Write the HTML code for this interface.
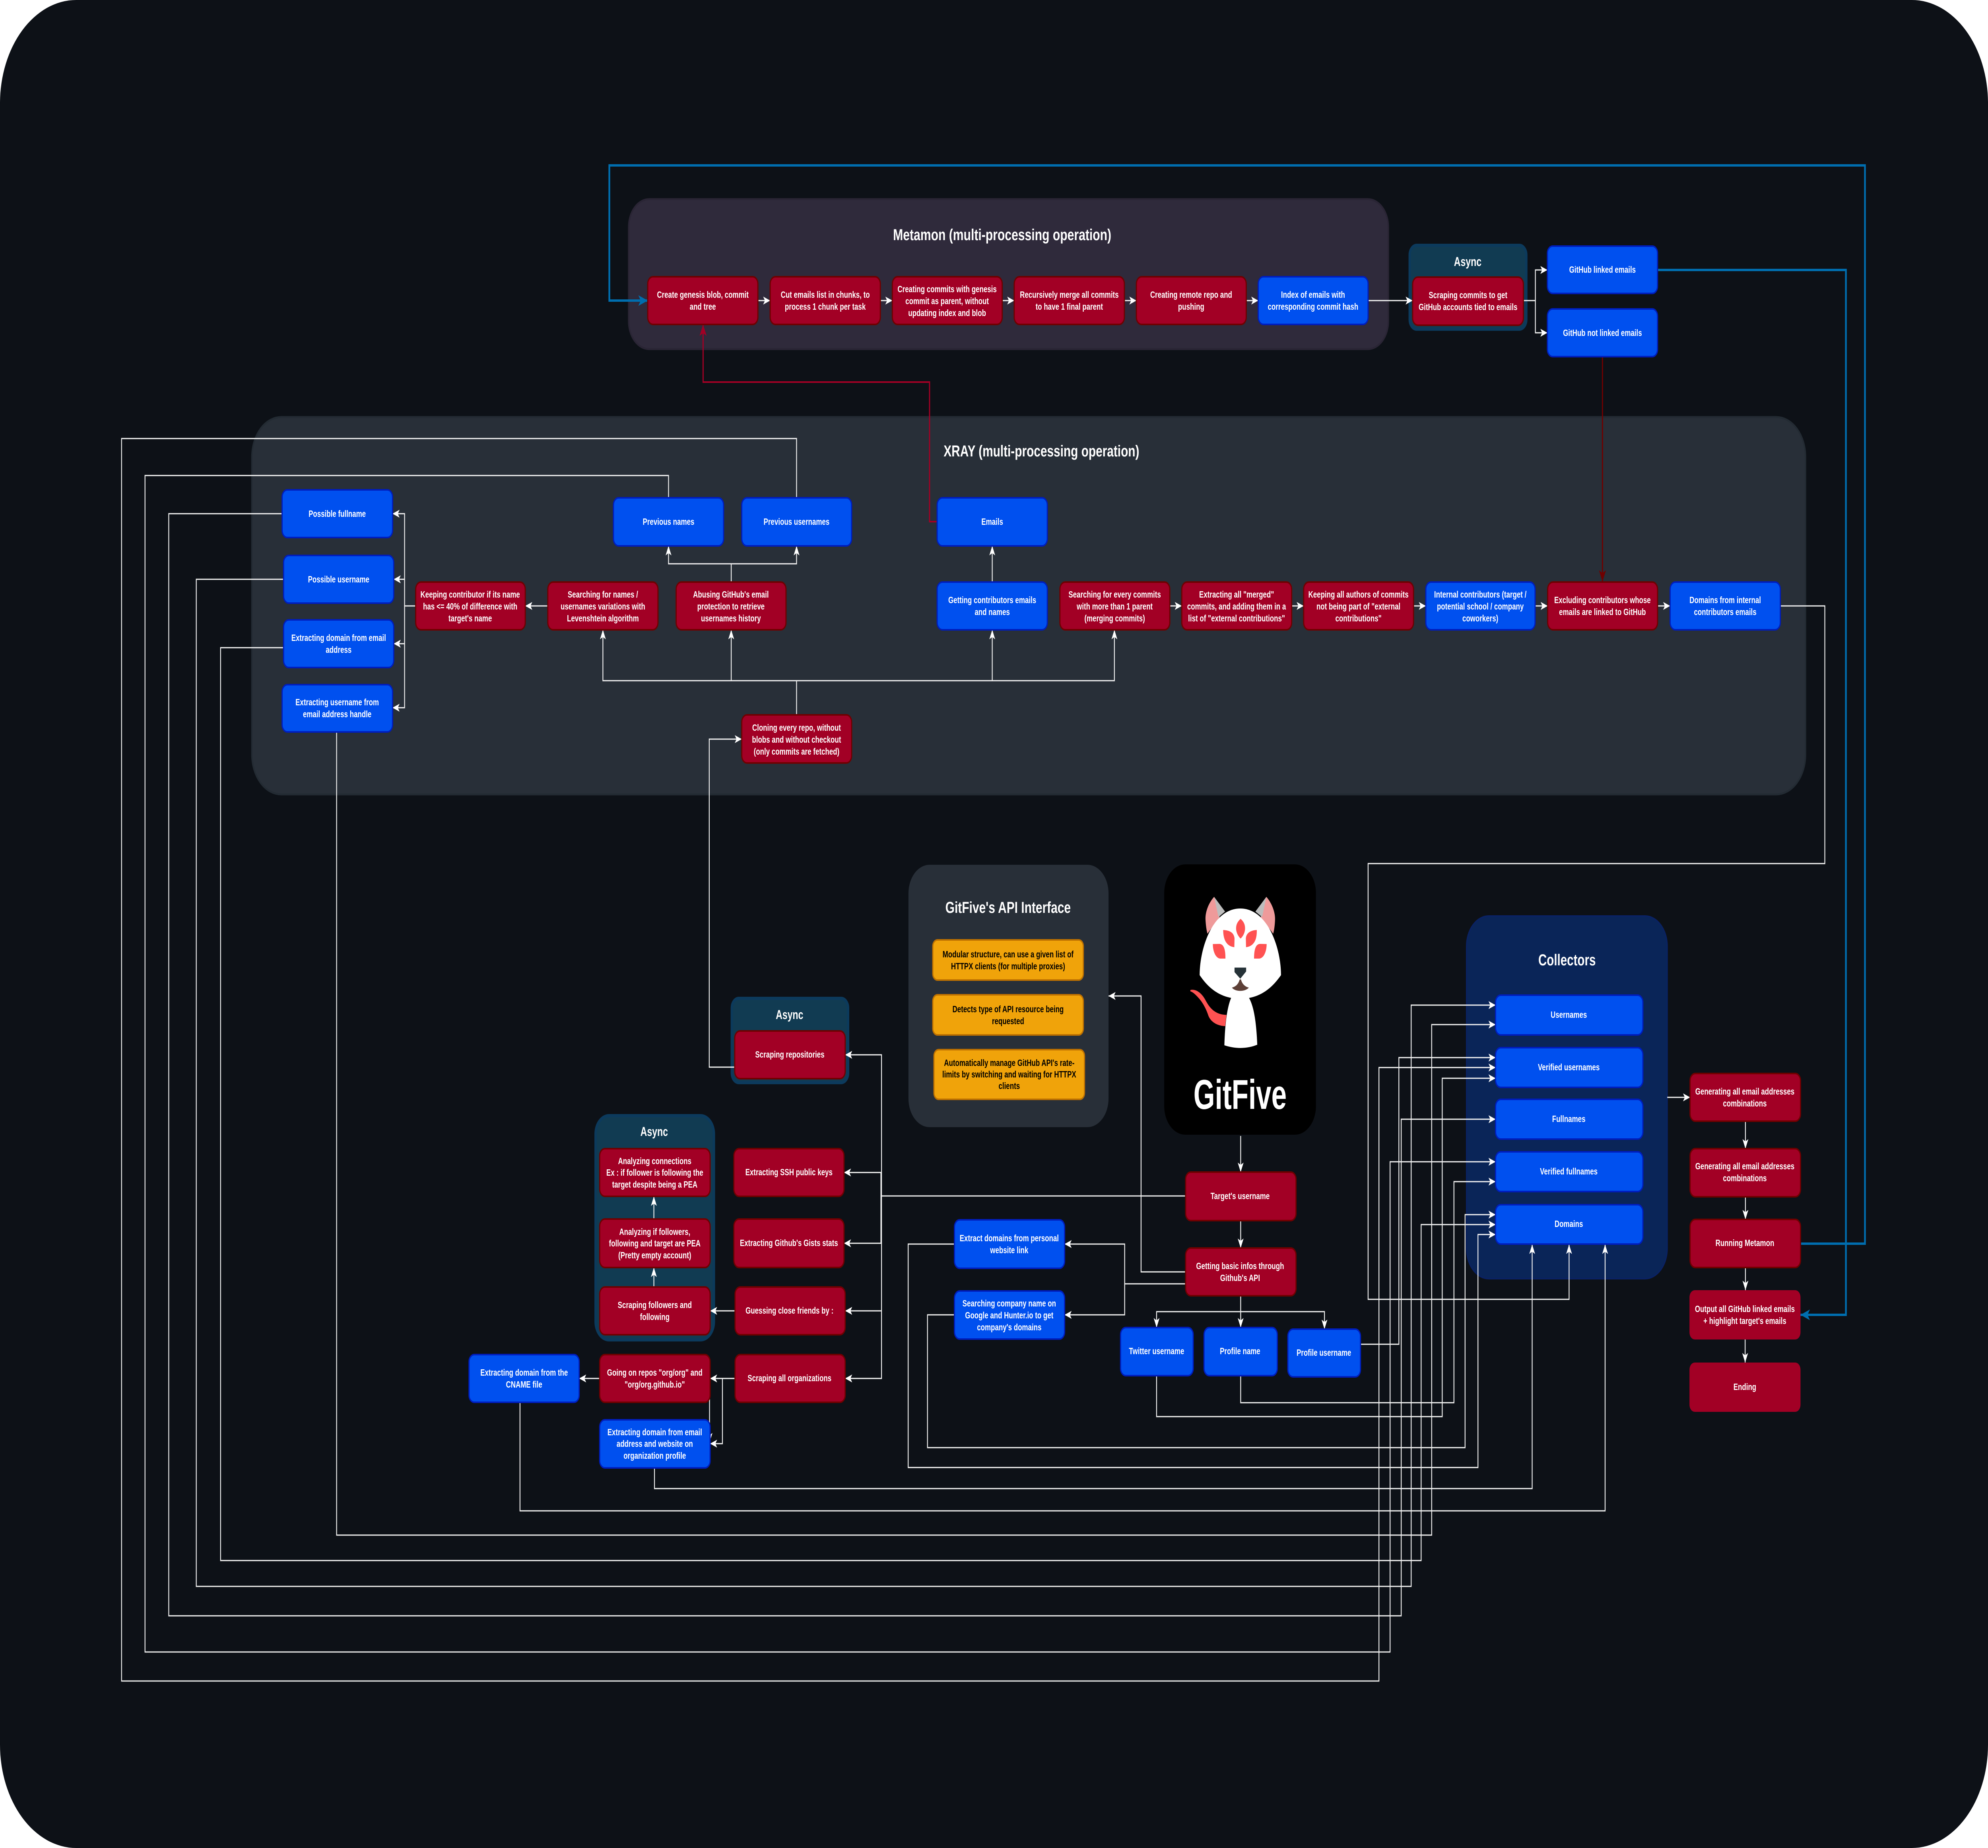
<!DOCTYPE html>
<html><head><meta charset="utf-8"><title>GitFive diagram</title>
<style>
html,body{margin:0;padding:0;background:#fff;width:100%;overflow:hidden}
svg{display:block;width:100%;height:4648px}
text{font-family:"Liberation Sans",sans-serif;font-weight:bold;font-size:23px;fill:#fff;text-anchor:middle}
.h{font-size:40px}
.y{fill:#000}
.r{fill:#a20025;stroke:#6f0000;stroke-width:4}
.b{fill:#0050ef;stroke:#001dbc;stroke-width:4}
.o{fill:#f0a30a;stroke:#bd7000;stroke-width:4}
.a{fill:#113b52;stroke:#0c3a5c;stroke-width:8}
path.l{fill:none;stroke:#f2f2f2;stroke-width:3}
path.u{fill:none;stroke:#006eaf;stroke-width:6}
path.c{fill:none;stroke:#a20025;stroke-width:4}
path.d{fill:none;stroke:#6f0000;stroke-width:4}
</style></head><body>
<svg xmlns="http://www.w3.org/2000/svg" viewBox="0 0 6786 4648" preserveAspectRatio="none">
<defs>
<marker id="w" viewBox="0 0 24 20" refX="24" refY="10" markerWidth="24" markerHeight="20" orient="auto" markerUnits="userSpaceOnUse"><path d="M0 0L24 10L0 20L6 10Z" fill="#fff"/></marker>
<marker id="bl" viewBox="0 0 24 20" refX="24" refY="10" markerWidth="32" markerHeight="28" orient="auto" markerUnits="userSpaceOnUse"><path d="M0 0L24 10L0 20L6 10Z" fill="#006eaf"/></marker>
<marker id="dr" viewBox="0 0 24 20" refX="24" refY="10" markerWidth="30" markerHeight="24" orient="auto" markerUnits="userSpaceOnUse"><path d="M0 0L24 10L0 20L6 10Z" fill="#6f0000"/></marker>
<marker id="cr" viewBox="0 0 24 20" refX="24" refY="10" markerWidth="30" markerHeight="24" orient="auto" markerUnits="userSpaceOnUse"><path d="M0 0L24 10L0 20L6 10Z" fill="#a20025"/></marker>
</defs>
<rect width="6786" height="4648" fill="#fff"/>
<rect width="6786" height="4648" rx="260" ry="260" fill="#0d1117"/>

<!-- containers -->
<rect x="2146" y="501" width="2593" height="377" rx="70" fill="#2f2a3b" stroke="#2a2535" stroke-width="5"/>
<rect x="860" y="1049" width="5303" height="949" rx="100" fill="#282f38" stroke="#232b33" stroke-width="5"/>
<rect class="a" x="4812" y="617" width="398" height="211" rx="24"/>
<rect class="a" x="2498" y="2511" width="397" height="212" rx="24"/>
<rect class="a" x="2033" y="2806" width="404" height="564" rx="46"/>
<rect x="3101" y="2175" width="683" height="660" rx="72" fill="#282f38"/>
<rect x="3974" y="2174" width="518" height="680" rx="72" fill="#000"/>
<rect x="5006" y="2304" width="685" height="912" rx="76" fill="#0a2558" stroke="#0a2263" stroke-width="4"/>

<!-- logo -->
<g transform="translate(4030,2250) scale(.33333)">
<path d="M343 17C290 60 250 130 255 190C258 230 265 270 275 295L400 170Z" fill="#ef9a9a"/>
<path d="M343 17L455 128L388 170Z" fill="#bdbdbd"/>
<path d="M878 17C930 60 970 130 967 190C965 230 958 270 948 295L820 170Z" fill="#ef9a9a"/>
<path d="M878 17L766 128L835 170Z" fill="#bdbdbd"/>
<path d="M100 720C160 710 215 745 250 790C290 845 340 905 470 908L456 993C370 990 310 960 285 915C260 860 230 820 190 785C155 755 125 735 100 730Z" fill="#ff5252"/>
<path d="M520 775C480 840 455 960 448 1137C560 1165 680 1165 785 1133C775 960 750 840 697 775Z" fill="#fff"/>
<path d="M195 608C195 400 330 105 611 105C890 105 1028 400 1028 608C950 690 850 760 700 780L520 780C370 760 270 690 195 608Z" fill="#fff"/>
<path d="M614 183C590 200 568 220 568 255C568 285 590 315 614 332C640 315 660 285 660 255C660 220 640 200 614 183Z" fill="#ff5252"/>
<path d="M436 267C500 270 545 285 552 330L550 397C490 392 436 360 436 267Z" fill="#ff5252"/>
<path d="M780 267C716 270 672 290 668 330L670 397C730 392 784 360 780 267Z" fill="#ff5252"/>
<path d="M330 373L400 372C440 375 460 410 459 483L405 483C360 480 330 430 330 373Z" fill="#ff5252"/>
<path d="M881 373L811 372C771 375 752 410 752 483L806 483C851 480 881 430 881 373Z" fill="#ff5252"/>
<path d="M552 551L671 551L671 580L611 635L552 585Z" fill="#263238"/>
<path d="M605 640C590 680 560 695 525 702C560 735 660 735 699 702C660 695 630 675 618 640Z" fill="#5d4037"/>
</g>
<text x="4233" y="2789" style="font-size:105px" textLength="318" lengthAdjust="spacingAndGlyphs">GitFive</text>

<!-- titles -->
<text class="h" x="3421" y="604" textLength="745" lengthAdjust="spacingAndGlyphs">Metamon (multi-processing operation)</text>
<text class="h" x="3555" y="1148" textLength="668" lengthAdjust="spacingAndGlyphs">XRAY (multi-processing operation)</text>
<text class="h" x="3441" y="2296" textLength="428" lengthAdjust="spacingAndGlyphs">GitFive's API Interface</text>
<text class="h" x="5349" y="2428" textLength="196" lengthAdjust="spacingAndGlyphs">Collectors</text>
<text x="5010" y="669" style="font-size:32px" textLength="94" lengthAdjust="spacingAndGlyphs">Async</text>
<text x="2695" y="2563" style="font-size:32px" textLength="94" lengthAdjust="spacingAndGlyphs">Async</text>
<text x="2233" y="2857" style="font-size:32px" textLength="94" lengthAdjust="spacingAndGlyphs">Async</text>

<!-- connectors -->
<g>
<path class="l" marker-end="url(#w)" d="M2587 756H2629"/>
<path class="l" marker-end="url(#w)" d="M3005 756H3046"/>
<path class="l" marker-end="url(#w)" d="M3421 756H3462"/>
<path class="l" marker-end="url(#w)" d="M3838 756H3879"/>
<path class="l" marker-end="url(#w)" d="M4254 756H4295"/>
<path class="l" marker-end="url(#w)" d="M4670 756H4822"/>
<path class="l" marker-end="url(#w)" d="M5200 756H5241V679H5282"/>
<path class="l" marker-end="url(#w)" d="M5241 756V837H5282"/>
<path class="u" marker-end="url(#bl)" d="M5658 679H6301V3307H6146"/>
<path class="u" marker-end="url(#bl)" d="M6146 3128H6366V416H2080V756H2211"/>
<path class="d" marker-end="url(#dr)" d="M5470 897V1463"/>
<path class="c" marker-end="url(#cr)" d="M3199 1312H3173V961H2400V816"/>
<path class="l" marker-end="url(#w)" d="M3387 1464V1373"/>
<path class="l" marker-end="url(#w)" d="M3993 1524H4034"/>
<path class="l" marker-end="url(#w)" d="M4409 1524H4450"/>
<path class="l" marker-end="url(#w)" d="M4825 1524H4867"/>
<path class="l" marker-end="url(#w)" d="M5240 1524H5283"/>
<path class="l" marker-end="url(#w)" d="M5658 1524H5701"/>
<path class="l" marker-end="url(#w)" d="M6078 1524H6229V2172H4670V3268H5356V3130"/>
<path class="l" marker-end="url(#w)" d="M2719 1798V1712H2058V1584"/>
<path class="l" marker-end="url(#w)" d="M2719 1712H3804V1584"/>
<path class="l" marker-end="url(#w)" d="M2496 1712V1584"/>
<path class="l" marker-end="url(#w)" d="M3387 1712V1584"/>
<path class="l" marker-end="url(#w)" d="M2496 1464V1418H2282V1373"/>
<path class="l" marker-end="url(#w)" d="M2496 1418H2719V1373"/>
<path class="l" marker-end="url(#w)" d="M1870 1524H1793"/>
<path class="l" marker-end="url(#w)" d="M1419 1524H1381V1292H1340"/>
<path class="l" marker-end="url(#w)" d="M1381 1457H1344"/>
<path class="l" marker-end="url(#w)" d="M1381 1619H1344"/>
<path class="l" marker-end="url(#w)" d="M1381 1524V1780H1340"/>
<path class="l" marker-end="url(#w)" d="M2719 1252V1103H415V4228H4707V2685H5105"/>
<path class="l" marker-end="url(#w)" d="M2282 1252V1196H495V4155H4745V2922H5105"/>
<path class="l" marker-end="url(#w)" d="M963 1292H576V4064H4783V2815H5105"/>
<path class="l" marker-end="url(#w)" d="M968 1457H670V3990H4817V2528H5105"/>
<path class="l" marker-end="url(#w)" d="M968 1629H753V3925H4851V3080H5105"/>
<path class="l" marker-end="url(#w)" d="M1149 1841V3861H4887V2577H5105"/>
<path class="l" marker-end="url(#w)" d="M2508 2684H2421V1859H2532"/>
<path class="l" marker-end="url(#w)" d="M4235 2857V2948"/>
<path class="l" marker-end="url(#w)" d="M4235 3070V3139"/>
<path class="l" marker-end="url(#w)" d="M4235 3259V3339"/>
<path class="l" marker-end="url(#w)" d="M4235 3299H3948V3339"/>
<path class="l" marker-end="url(#w)" d="M4235 3299H4521V3343"/>
<path class="l" marker-end="url(#w)" d="M4047 3199H3895V2505H3784"/>
<path class="l" marker-end="url(#w)" d="M4047 3229H3839V3129H3634"/>
<path class="l" marker-end="url(#w)" d="M3839 3229V3307H3634"/>
<path class="l" d="M4047 3008H3009"/>
<path class="l" marker-end="url(#w)" d="M3009 3008V2653H2885"/>
<path class="l" marker-end="url(#w)" d="M3009 2949H2881"/>
<path class="l" marker-end="url(#w)" d="M3007 2949V3127H2881"/>
<path class="l" marker-end="url(#w)" d="M3009 3297H2885"/>
<path class="l" marker-end="url(#w)" d="M3009 3008V3467H2885"/>
<path class="l" marker-end="url(#w)" d="M2509 3297H2424"/>
<path class="l" marker-end="url(#w)" d="M2509 3467H2424"/>
<path class="l" marker-end="url(#w)" d="M2466 3467V3631H2424"/>
<path class="l" marker-end="url(#w)" d="M2422 3467V3628"/>
<path class="l" marker-end="url(#w)" d="M2047 3467H1977"/>
<path class="l" marker-end="url(#w)" d="M1775 3527V3800H5479V3130"/>
<path class="l" marker-end="url(#w)" d="M2234 3692V3744H5230V3130"/>
<path class="l" marker-end="url(#w)" d="M3258 3129H3100V3691H5045V3105H5105"/>
<path class="l" marker-end="url(#w)" d="M3258 3307H3166V3641H5001V3055H5105"/>
<path class="l" marker-end="url(#w)" d="M3948 3460V3563H4923V2712H5105"/>
<path class="l" marker-end="url(#w)" d="M4235 3460V3528H4963V2972H5105"/>
<path class="l" marker-end="url(#w)" d="M4644 3381H4775V2660H5105"/>
<path class="l" marker-end="url(#w)" d="M5691 2760H5769"/>
<path class="l" marker-end="url(#w)" d="M5958 2820V2889"/>
<path class="l" marker-end="url(#w)" d="M5958 3010V3067"/>
<path class="l" marker-end="url(#w)" d="M5958 3188V3245"/>
<path class="l" marker-end="url(#w)" d="M5957 3369V3427"/>
<path class="l" marker-end="url(#w)" d="M2232 3066V3009"/>
<path class="l" marker-end="url(#w)" d="M2232 3237V3188"/>
</g>

<!-- Metamon nodes -->
<rect class="r" x="2211" y="696" width="376" height="120" rx="18"/>
<text x="2399" y="749">Create genesis blob, commit<tspan x="2399" dy="30">and tree</tspan></text>
<rect class="r" x="2629" y="696" width="376" height="120" rx="18"/>
<text x="2817" y="749">Cut emails list in chunks, to<tspan x="2817" dy="30">process 1 chunk per task</tspan></text>
<rect class="r" x="3046" y="696" width="375" height="120" rx="18"/>
<text x="3233" y="735">Creating commits with genesis<tspan x="3233" dy="30">commit as parent, without</tspan><tspan x="3233" dy="30">updating index and blob</tspan></text>
<rect class="r" x="3462" y="696" width="376" height="120" rx="18"/>
<text x="3650" y="749">Recursively merge all commits<tspan x="3650" dy="30">to have 1 final parent</tspan></text>
<rect class="r" x="3879" y="696" width="375" height="120" rx="18"/>
<text x="4066" y="749">Creating remote repo and<tspan x="4066" dy="30">pushing</tspan></text>
<rect class="b" x="4295" y="696" width="375" height="120" rx="18"/>
<text x="4482" y="749">Index of emails with<tspan x="4482" dy="30">corresponding commit hash</tspan></text>
<rect class="r" x="4822" y="697" width="378" height="121" rx="18"/>
<text x="5011" y="750">Scraping commits to get<tspan x="5011" dy="30">GitHub accounts tied to emails</tspan></text>
<rect class="b" x="5282" y="619" width="376" height="119" rx="18"/>
<text x="5470" y="686">GitHub linked emails</text>
<rect class="b" x="5282" y="777" width="376" height="120" rx="18"/>
<text x="5470" y="845">GitHub not linked emails</text>

<!-- XRAY nodes -->
<rect class="b" x="963" y="1232" width="377" height="120" rx="18"/>
<text x="1151" y="1300">Possible fullname</text>
<rect class="b" x="968" y="1397" width="376" height="120" rx="18"/>
<text x="1156" y="1465">Possible username</text>
<rect class="b" x="968" y="1559" width="376" height="120" rx="18"/>
<text x="1156" y="1612">Extracting domain from email<tspan x="1156" dy="30">address</tspan></text>
<rect class="b" x="963" y="1722" width="377" height="119" rx="18"/>
<text x="1151" y="1774">Extracting username from<tspan x="1151" dy="30">email address handle</tspan></text>
<rect class="r" x="1419" y="1464" width="374" height="120" rx="18"/>
<text x="1605" y="1503">Keeping contributor if its name<tspan x="1605" dy="30">has &lt;= 40% of difference with</tspan><tspan x="1605" dy="30">target's name</tspan></text>
<rect class="r" x="1870" y="1464" width="376" height="120" rx="18"/>
<text x="2058" y="1503">Searching for names /<tspan x="2058" dy="30">usernames variations with</tspan><tspan x="2058" dy="30">Levenshtein algorithm</tspan></text>
<rect class="r" x="2308" y="1464" width="375" height="120" rx="18"/>
<text x="2495" y="1503">Abusing GitHub's email<tspan x="2495" dy="30">protection to retrieve</tspan><tspan x="2495" dy="30">usernames history</tspan></text>
<rect class="b" x="2094" y="1252" width="376" height="121" rx="18"/>
<text x="2282" y="1320">Previous names</text>
<rect class="b" x="2532" y="1252" width="375" height="121" rx="18"/>
<text x="2719" y="1320">Previous usernames</text>
<rect class="r" x="2532" y="1798" width="375" height="121" rx="18"/>
<text x="2719" y="1838">Cloning every repo, without<tspan x="2719" dy="30">blobs and without checkout</tspan><tspan x="2719" dy="30">(only commits are fetched)</tspan></text>
<rect class="b" x="3199" y="1252" width="376" height="121" rx="18"/>
<text x="3387" y="1320">Emails</text>
<rect class="b" x="3199" y="1464" width="376" height="120" rx="18"/>
<text x="3387" y="1517">Getting contributors emails<tspan x="3387" dy="30">and names</tspan></text>
<rect class="r" x="3618" y="1464" width="375" height="120" rx="18"/>
<text x="3805" y="1503">Searching for every commits<tspan x="3805" dy="30">with more than 1 parent</tspan><tspan x="3805" dy="30">(merging commits)</tspan></text>
<rect class="r" x="4034" y="1464" width="375" height="120" rx="18"/>
<text x="4221" y="1503">Extracting all "merged"<tspan x="4221" dy="30">commits, and adding them in a</tspan><tspan x="4221" dy="30">list of "external contributions"</tspan></text>
<rect class="r" x="4450" y="1464" width="375" height="120" rx="18"/>
<text x="4637" y="1503">Keeping all authors of commits<tspan x="4637" dy="30">not being part of "external</tspan><tspan x="4637" dy="30">contributions"</tspan></text>
<rect class="b" x="4867" y="1464" width="373" height="120" rx="18"/>
<text x="5053" y="1503">Internal contributors (target /<tspan x="5053" dy="30">potential school / company</tspan><tspan x="5053" dy="30">coworkers)</tspan></text>
<rect class="r" x="5283" y="1464" width="375" height="120" rx="18"/>
<text x="5470" y="1517">Excluding contributors whose<tspan x="5470" dy="30">emails are linked to GitHub</tspan></text>
<rect class="b" x="5701" y="1464" width="376" height="120" rx="18"/>
<text x="5889" y="1517">Domains from internal<tspan x="5889" dy="30">contributors emails</tspan></text>

<!-- API panel -->
<rect class="o" x="3184" y="2364" width="514" height="101" rx="16"/>
<text class="y" x="3441" y="2408">Modular structure, can use a given list of<tspan x="3441" dy="30">HTTPX clients (for multiple proxies)</tspan></text>
<rect class="o" x="3184" y="2502" width="514" height="101" rx="16"/>
<text class="y" x="3441" y="2546">Detects type of API resource being<tspan x="3441" dy="30">requested</tspan></text>
<rect class="o" x="3188" y="2640" width="514" height="125" rx="16"/>
<text class="y" x="3445" y="2681">Automatically manage GitHub API's rate-<tspan x="3445" dy="29">limits by switching and waiting for HTTPX</tspan><tspan x="3445" dy="29">clients</tspan></text>

<!-- central -->
<rect class="r" x="4047" y="2948" width="377" height="122" rx="18"/>
<text x="4233" y="3016">Target's username</text>
<rect class="r" x="4047" y="3139" width="377" height="120" rx="18"/>
<text x="4233" y="3192">Getting basic infos through<tspan x="4233" dy="30">Github's API</tspan></text>
<rect class="b" x="3258" y="3068" width="376" height="122" rx="18"/>
<text x="3445" y="3122">Extract domains from personal<tspan x="3445" dy="30">website link</tspan></text>
<rect class="b" x="3258" y="3247" width="376" height="121" rx="18"/>
<text x="3445" y="3286">Searching company name on<tspan x="3445" dy="30">Google and Hunter.io to get</tspan><tspan x="3445" dy="30">company's domains</tspan></text>
<rect class="b" x="3825" y="3339" width="248" height="121" rx="18"/>
<text x="3948" y="3406">Twitter username</text>
<rect class="b" x="4110" y="3339" width="250" height="121" rx="18"/>
<text x="4233" y="3406">Profile name</text>
<rect class="b" x="4396" y="3343" width="248" height="120" rx="18"/>
<text x="4519" y="3410">Profile username</text>

<!-- left cluster -->
<rect class="r" x="2508" y="2593" width="377" height="120" rx="18"/>
<text x="2696" y="2660">Scraping repositories</text>
<rect class="r" x="2047" y="2889" width="377" height="120" rx="18"/>
<text x="2235" y="2928">Analyzing connections<tspan x="2235" dy="29">Ex : if follower is following the</tspan><tspan x="2235" dy="30">target despite being a PEA</tspan></text>
<rect class="r" x="2047" y="3066" width="377" height="122" rx="18"/>
<text x="2235" y="3106">Analyzing if followers,<tspan x="2235" dy="29">following and target are PEA</tspan><tspan x="2235" dy="30">(Pretty empty account)</tspan></text>
<rect class="r" x="2047" y="3237" width="377" height="120" rx="18"/>
<text x="2235" y="3290">Scraping followers and<tspan x="2235" dy="30">following</tspan></text>
<rect class="r" x="2505" y="2889" width="376" height="120" rx="18"/>
<text x="2693" y="2956">Extracting SSH public keys</text>
<rect class="r" x="2505" y="3066" width="376" height="122" rx="18"/>
<text x="2693" y="3134">Extracting Github's Gists stats</text>
<rect class="r" x="2509" y="3237" width="376" height="120" rx="18"/>
<text x="2695" y="3304">Guessing close friends by :</text>
<rect class="r" x="2509" y="3407" width="376" height="120" rx="18"/>
<text x="2695" y="3474">Scraping all organizations</text>
<rect class="r" x="2047" y="3407" width="377" height="120" rx="18"/>
<text x="2235" y="3460">Going on repos "org/org" and<tspan x="2235" dy="30">"org/org.github.io"</tspan></text>
<rect class="b" x="1601" y="3407" width="376" height="120" rx="18"/>
<text x="1789" y="3460">Extracting domain from the<tspan x="1789" dy="30">CNAME file</tspan></text>
<rect class="b" x="2047" y="3571" width="377" height="121" rx="18"/>
<text x="2235" y="3610">Extracting domain from email<tspan x="2235" dy="29">address and website on</tspan><tspan x="2235" dy="30">organization profile</tspan></text>

<!-- Collectors nodes -->
<rect class="b" x="5105" y="2503" width="503" height="100" rx="18"/>
<text x="5355" y="2560">Usernames</text>
<rect class="b" x="5105" y="2635" width="503" height="100" rx="18"/>
<text x="5355" y="2692">Verified usernames</text>
<rect class="b" x="5105" y="2765" width="503" height="100" rx="18"/>
<text x="5355" y="2822">Fullnames</text>
<rect class="b" x="5105" y="2897" width="503" height="100" rx="18"/>
<text x="5355" y="2954">Verified fullnames</text>
<rect class="b" x="5105" y="3030" width="503" height="99" rx="18"/>
<text x="5355" y="3086">Domains</text>

<!-- right column -->
<rect class="r" x="5769" y="2700" width="377" height="120" rx="18"/>
<text x="5956" y="2753">Generating all email addresses<tspan x="5956" dy="30">combinations</tspan></text>
<rect class="r" x="5769" y="2889" width="377" height="121" rx="18"/>
<text x="5956" y="2941">Generating all email addresses<tspan x="5956" dy="30">combinations</tspan></text>
<rect class="r" x="5769" y="3067" width="377" height="121" rx="18"/>
<text x="5956" y="3134">Running Metamon</text>
<rect x="5767" y="3245" width="379" height="124" rx="18" fill="#a20025"/>
<text x="5956" y="3300">Output all GitHub linked emails<tspan x="5956" dy="30">+ highlight target's emails</tspan></text>
<rect x="5767" y="3427" width="379" height="124" rx="18" fill="#a20025"/>
<text x="5956" y="3496">Ending</text>
</svg>
</body></html>
